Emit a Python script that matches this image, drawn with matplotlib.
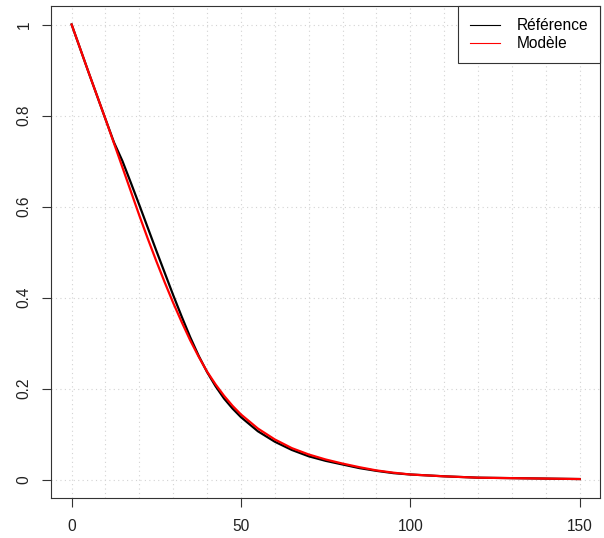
import matplotlib
matplotlib.use("Agg")
import matplotlib.pyplot as plt
from matplotlib.lines import Line2D
from matplotlib.ticker import MultipleLocator

plt.rcParams['font.family'] = ['Liberation Sans', 'DejaVu Sans']

# valeurs (même grille x pour les deux courbes)
x_vals = [0, 5, 10, 12.5, 15, 17.5, 20, 22.5, 25, 27.5, 30, 32.5, 35, 37.5, 40, 42.5,
          45, 47.5, 50, 55, 60, 65, 70, 75, 80, 85, 90, 95, 100, 110, 120, 130, 140, 150]
y_ref = [1.0, 0.895, 0.792, 0.741, 0.70, 0.652, 0.603, 0.553, 0.503, 0.454, 0.405, 0.358,
         0.313, 0.272, 0.236, 0.205, 0.178, 0.156, 0.137, 0.106, 0.083, 0.065, 0.051,
         0.041, 0.033, 0.025, 0.019, 0.014, 0.011, 0.007, 0.004, 0.003, 0.002, 0.001]
y_mod = [1.0, 0.895, 0.792, 0.739, 0.686, 0.633, 0.58, 0.529, 0.48, 0.433, 0.388, 0.346,
         0.306, 0.27, 0.237, 0.209, 0.184, 0.162, 0.143, 0.112, 0.088, 0.069, 0.055,
         0.044, 0.035, 0.027, 0.020, 0.015, 0.011, 0.007, 0.004, 0.003, 0.002, 0.001]

labels = ["Référence", "Modèle"]
xticks = [0, 50, 100, 150]
yticks = [0, 0.2, 0.4, 0.6, 0.8, 1]
ytick_labels = ["0", "0.2", "0.4", "0.6", "0.8", "1"]

fig = plt.figure(figsize=(6.04, 5.38), dpi=100)
ax = fig.add_axes([51.3 / 604, (538 - 497.7) / 538, 548.7 / 604, 491.4 / 538])

ax.set_xlim(-6, 156)
ax.set_ylim(-0.04, 1.04)

# grille pointillée grise (tous les 10 en x)
ax.xaxis.set_minor_locator(MultipleLocator(10))
ax.grid(True, which='both', axis='x', color='#d3d3d3', linestyle=(0, (1, 3)), linewidth=0.8)
ax.grid(True, which='major', axis='y', color='#d3d3d3', linestyle=(0, (1, 3)), linewidth=0.8)
ax.set_axisbelow(True)

ax.plot(x_vals, y_ref, color='black', lw=1.6, solid_joinstyle='round')
ax.plot(x_vals, y_mod, color='#ff0000', lw=1.6, solid_joinstyle='round')

ax.set_xticks(xticks)
ax.set_yticks(yticks)
ax.set_yticklabels(ytick_labels)
ax.tick_params(axis='both', which='major', length=6.7, width=0.8, labelsize=11.2,
               color='#333333', labelcolor='#222222')
ax.tick_params(axis='x', which='major', pad=8.5)
ax.tick_params(axis='y', which='major', pad=7.5, labelrotation=90)
ax.tick_params(axis='x', which='minor', length=0)
for lab in ax.get_yticklabels():
    lab.set_va('center')

for s in ax.spines.values():
    s.set_color('#333333')
    s.set_linewidth(0.8)

handles = [Line2D([], [], color='black', lw=0.8),
           Line2D([], [], color='#ff0000', lw=0.8)]
leg = ax.legend(handles, labels, loc='upper right', bbox_to_anchor=(1, 1),
                borderaxespad=0, fontsize=11.2, fancybox=False, framealpha=1,
                edgecolor='#333333', handlelength=1.9, handletextpad=1.1,
                labelspacing=0.22, borderpad=0.75)
leg.get_frame().set_linewidth(0.8)

fig.savefig("out.png", dpi=100)
